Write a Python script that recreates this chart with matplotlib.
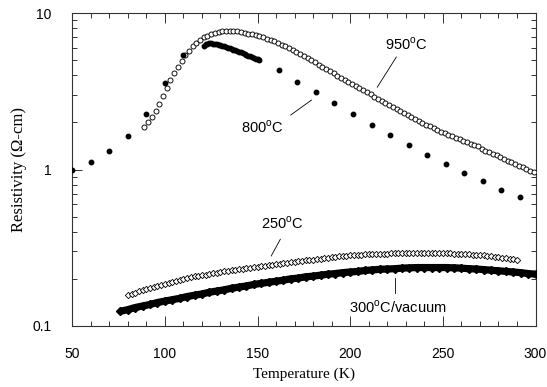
import numpy as np
import matplotlib
matplotlib.use("Agg")
import matplotlib.pyplot as plt
from matplotlib.ticker import FixedLocator, NullFormatter, LogLocator

plt.rcParams['font.family'] = ['Liberation Sans', 'DejaVu Sans']
plt.rcParams['mathtext.fontset'] = 'custom'
plt.rcParams['mathtext.rm'] = 'Liberation Sans'

# 950 C sample (open circles)
t_950 = np.arange(89, 300, 2)
rho_950 = [1.88, 2.00, 2.16, 2.37, 2.63, 2.95, 3.31, 3.72, 4.12, 4.52,
           4.95, 5.37, 5.75, 6.12, 6.46, 6.76, 7.00, 7.19, 7.35, 7.46,
           7.57, 7.64, 7.69, 7.73, 7.73, 7.69, 7.62, 7.52, 7.41, 7.33,
           7.23, 7.11, 7.00, 6.87, 6.75, 6.61, 6.46, 6.30, 6.12, 5.96,
           5.78, 5.62, 5.46, 5.30, 5.14, 4.99, 4.84, 4.69, 4.54, 4.40,
           4.26, 4.12, 3.99, 3.86, 3.74, 3.62, 3.51, 3.40, 3.30, 3.21,
           3.11, 3.02, 2.93, 2.84, 2.76, 2.68, 2.60, 2.52, 2.45, 2.38,
           2.31, 2.24, 2.17, 2.11, 2.05, 1.99, 1.94, 1.89, 1.84, 1.79,
           1.75, 1.71, 1.67, 1.63, 1.60, 1.56, 1.52, 1.49, 1.46, 1.43,
           1.41, 1.36, 1.32, 1.29, 1.26, 1.23, 1.20, 1.17, 1.14, 1.11,
           1.09, 1.06, 1.03, 1.01, 0.982, 0.957]

# 800 C sample (filled circles)
t_800_low = [50, 60, 70, 80, 90, 100, 110]
rho_800_low = [1.00, 1.11, 1.31, 1.65, 2.26, 3.60, 5.38]
t_800_mid = np.arange(121, 152)
rho_800_mid = [6.21, 6.31, 6.37, 6.40, 6.40, 6.38, 6.35, 6.32, 6.28, 6.24,
               6.18, 6.12, 6.07, 6.01, 5.96, 5.90, 5.85, 5.79, 5.73, 5.68,
               5.61, 5.55, 5.48, 5.42, 5.36, 5.30, 5.24, 5.18, 5.12, 5.06,
               5.00]
t_800_high = [161.5, 171.5, 181.5, 191.5, 201.5, 211.5, 221.5, 231.5,
              241.5, 251.5, 261.5, 271.5, 281.5, 291.5]
rho_800_high = [4.31, 3.64, 3.14, 2.66, 2.27, 1.93, 1.66, 1.43, 1.24, 1.08,
                0.955, 0.845, 0.743, 0.664]

# 250 C sample (open diamonds)
t_250 = np.arange(80, 291, 2)
rho_250 = [0.158, 0.160, 0.163, 0.166, 0.169, 0.171, 0.174, 0.177, 0.179, 0.183,
           0.186, 0.189, 0.192, 0.195, 0.197, 0.200, 0.202, 0.205, 0.207, 0.209,
           0.211, 0.213, 0.215, 0.217, 0.219, 0.221, 0.223, 0.225, 0.227, 0.229,
           0.231, 0.232, 0.234, 0.236, 0.238, 0.239, 0.241, 0.243, 0.244, 0.246,
           0.248, 0.249, 0.251, 0.253, 0.255, 0.256, 0.258, 0.260, 0.262, 0.264,
           0.265, 0.267, 0.269, 0.271, 0.273, 0.275, 0.277, 0.278, 0.280, 0.281,
           0.282, 0.284, 0.285, 0.286, 0.287, 0.288, 0.288, 0.289, 0.290, 0.290,
           0.290, 0.291, 0.291, 0.292, 0.292, 0.292, 0.292, 0.292, 0.292, 0.292,
           0.292, 0.292, 0.292, 0.292, 0.292, 0.292, 0.292, 0.292, 0.290, 0.290,
           0.289, 0.288, 0.287, 0.286, 0.285, 0.284, 0.282, 0.281, 0.279, 0.277,
           0.275, 0.273, 0.271, 0.269, 0.267, 0.264]

# 300 C / vacuum sample (filled diamonds)
t_300 = np.arange(76, 301, 4)
rho_300 = [0.124, 0.127, 0.131, 0.134, 0.137, 0.141, 0.144, 0.147, 0.150, 0.154,
           0.157, 0.160, 0.164, 0.167, 0.170, 0.174, 0.177, 0.180, 0.184, 0.187,
           0.190, 0.193, 0.196, 0.200, 0.202, 0.206, 0.208, 0.211, 0.214, 0.216,
           0.219, 0.221, 0.223, 0.226, 0.228, 0.230, 0.231, 0.232, 0.234, 0.235,
           0.236, 0.236, 0.236, 0.236, 0.236, 0.235, 0.234, 0.232, 0.231, 0.229,
           0.227, 0.225, 0.223, 0.221, 0.219, 0.216, 0.214]

fig = plt.figure(figsize=(5.47, 3.87), dpi=100)
ax = fig.add_axes([0.132, 0.158, 0.847, 0.808])

ax.plot(t_300, rho_300, color='black', lw=5.2, solid_capstyle='butt', zorder=2)
ax.plot(t_300, rho_300, 'D', color='black', ms=4.2, zorder=3)
ax.plot(t_250, rho_250, 'D', mfc='white', mec='black', ms=3.2, mew=0.6, zorder=3)
ax.plot(t_950, rho_950, 'o', mfc='white', mec='black', ms=3.6, mew=0.65, zorder=3)
for t, r in [(t_800_low, rho_800_low), (t_800_mid, rho_800_mid), (t_800_high, rho_800_high)]:
    ax.plot(t, r, 'o', color='black', ms=3.2, zorder=4)

# labels with leader lines
ax.text(230.3, 6.34, r'950$^\mathrm{o}$C', ha='center', va='center', fontsize=10.5)
ax.plot([224.9, 214.6], [5.24, 3.36], color='black', lw=0.6)
ax.text(152.8, 1.87, r'800$^\mathrm{o}$C', ha='center', va='center', fontsize=10.5)
ax.plot([167.9, 179.1], [2.23, 2.78], color='black', lw=0.6)
ax.text(163.5, 0.452, r'250$^\mathrm{o}$C', ha='center', va='center', fontsize=10.5)
ax.plot([162.3, 157.4], [0.358, 0.28], color='black', lw=0.6)
ax.text(225.6, 0.131, r'300$^\mathrm{o}$C/vacuum', ha='center', va='center', fontsize=10.5)
ax.plot([224.3, 224.3], [0.202, 0.162], color='black', lw=0.6)

ax.set_yscale('log')
ax.set_xlim(50, 300)
ax.set_ylim(0.1, 10)
ax.xaxis.set_major_locator(FixedLocator([50, 100, 150, 200, 250, 300]))
ax.xaxis.set_minor_locator(FixedLocator(range(50, 301, 10)))
ax.yaxis.set_major_locator(FixedLocator([0.1, 1, 10]))
ax.yaxis.set_minor_locator(LogLocator(base=10, subs=np.arange(2, 10)))
ax.yaxis.set_minor_formatter(NullFormatter())
ax.set_yticklabels(['0.1', '1', '10'])

ax.tick_params(which='both', direction='in', top=True, right=True,
               color='#333333', width=0.7, labelsize=10)
ax.tick_params(which='major', length=7, pad=15)
ax.tick_params(which='minor', length=3.5)
for s in ax.spines.values():
    s.set_color('#333333')
    s.set_linewidth(0.8)

ax.set_xlabel('Temperature (K)', family='Liberation Serif', fontsize=11, labelpad=5)
ax.set_ylabel('Resistivity (\u03a9-cm)', family='Liberation Serif', fontsize=12, labelpad=4)

fig.savefig('out.png', dpi=100)
